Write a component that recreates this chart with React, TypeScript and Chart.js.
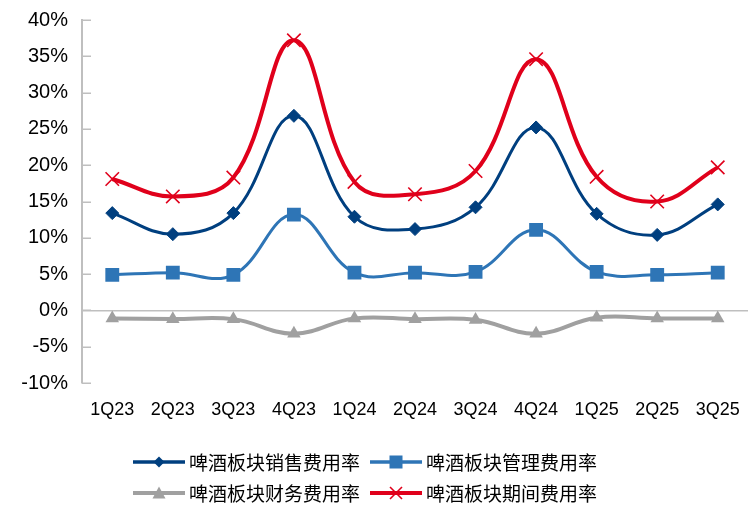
import React, { useEffect, useRef } from 'react';
import { Chart, registerables } from 'chart.js';

Chart.register(...registerables);

const categories = ['1Q23', '2Q23', '3Q23', '4Q23', '1Q24', '2Q24', '3Q24', '4Q24', '1Q25', '2Q25', '3Q25'];
const salesRate = [13.4, 10.5, 13.4, 26.8, 12.9, 11.2, 14.2, 25.2, 13.3, 10.4, 14.6];
const adminRate = [4.9, 5.2, 4.9, 13.2, 5.2, 5.2, 5.3, 11.1, 5.3, 4.9, 5.2];
const financeRate = [-1.1, -1.2, -1.2, -3.2, -1.1, -1.2, -1.3, -3.2, -1.0, -1.1, -1.1];
const periodRate = [18.1, 15.7, 18.3, 37.2, 17.7, 16.0, 19.2, 34.6, 18.4, 15.0, 19.7];
const seriesNames = ['啤酒板块销售费用率', '啤酒板块管理费用率', '啤酒板块财务费用率', '啤酒板块期间费用率'];
const yMin = -10;
const yMax = 40;
const yStep = 5;

const COLORS = ['#003F7F', '#2E75B6', '#A0A0A0', '#E0001B'];
const AXIS = '#BFBFBF';

const innerTicks = {
  id: 'innerTicks',
  beforeDatasetsDraw(chart: any) {
    const y = chart.scales.y;
    const ctx = chart.ctx;
    const left = chart.chartArea.left;
    ctx.save();
    ctx.strokeStyle = AXIS;
    ctx.lineWidth = 1.5;
    y.ticks.forEach((t: any) => {
      const py = Math.round(y.getPixelForValue(t.value)) + 0.25;
      ctx.beginPath();
      ctx.moveTo(left, py);
      ctx.lineTo(left + 9, py);
      ctx.stroke();
    });
    ctx.restore();
  },
};

function LegendIcon({ idx }: { idx: number }) {
  const c = COLORS[idx];
  let marker: any = null;
  if (idx === 0) marker = <polygon points="26,4.5 31.5,10 26,15.5 20.5,10" fill={c} />;
  if (idx === 1) marker = <rect x={19.5} y={3.5} width={13} height={13} fill={c} />;
  if (idx === 2) marker = <polygon points="26,3.5 32.5,15.5 19.5,15.5" fill={c} />;
  if (idx === 3)
    marker = (
      <g stroke={c} strokeWidth={1.6}>
        <line x1={20} y1={4} x2={32} y2={16} />
        <line x1={32} y1={4} x2={20} y2={16} />
      </g>
    );
  return (
    <svg width={52} height={20} style={{ display: 'block' }}>
      <line x1={0} y1={10} x2={52} y2={10} stroke={c} strokeWidth={idx >= 2 ? 4 : 3.5} />
      {marker}
    </svg>
  );
}

export default function App() {
  const ref = useRef<HTMLCanvasElement>(null);

  useEffect(() => {
    const canvas = ref.current!;
    const chart = new Chart(canvas, {
      type: 'line',
      data: {
        labels: categories,
        datasets: [
          {
            label: seriesNames[0],
            data: salesRate,
            borderColor: COLORS[0],
            backgroundColor: COLORS[0],
            borderWidth: 3,
            pointStyle: 'rectRot',
            pointRadius: 6.5,
            pointBorderWidth: 1,
            pointBackgroundColor: COLORS[0],
            pointBorderColor: COLORS[0],
            tension: 0.4,
          },
          {
            label: seriesNames[1],
            data: adminRate,
            borderColor: COLORS[1],
            backgroundColor: COLORS[1],
            borderWidth: 3,
            pointStyle: 'rect',
            pointRadius: 9.8,
            pointBorderWidth: 0,
            pointBackgroundColor: COLORS[1],
            tension: 0.4,
          },
          {
            label: seriesNames[2],
            data: financeRate,
            borderColor: COLORS[2],
            backgroundColor: COLORS[2],
            borderWidth: 4,
            pointStyle: 'triangle',
            pointRadius: 7.8,
            pointBorderWidth: 0,
            pointBackgroundColor: COLORS[2],
            tension: 0.4,
          },
          {
            label: seriesNames[3],
            data: periodRate,
            borderColor: COLORS[3],
            backgroundColor: COLORS[3],
            borderWidth: 4,
            pointStyle: 'crossRot',
            pointRadius: 9.5,
            pointBorderWidth: 1.6,
            pointBorderColor: COLORS[3],
            tension: 0.4,
          },
        ],
      },
      options: {
        animation: false,
        responsive: false,
        events: [],
        layout: { autoPadding: false, padding: { left: 0, right: 0, top: 20, bottom: 0 } },
        plugins: { legend: { display: false }, tooltip: { enabled: false } },
        scales: {
          x: {
            offset: true,
            grid: { display: false, drawTicks: false },
            border: { display: false },
            ticks: {
              font: { family: '"Liberation Sans", Arial, sans-serif', size: 18 },
              color: '#000',
              padding: 16,
              maxRotation: 0,
              autoSkip: false,
            },
            afterFit: (s: any) => {
              s.height = 122;
              s.paddingLeft = 0;
              s.paddingRight = 0;
            },
          },
          y: {
            min: yMin,
            max: yMax,
            ticks: {
              stepSize: yStep,
              callback: (v: any) => v + '%',
              font: { family: '"Liberation Sans", Arial, sans-serif', size: 20 },
              color: '#000',
              padding: 14,
            },
            grid: {
              drawTicks: false,
              color: (ctx: any) => (ctx.tick && ctx.tick.value === 0 ? AXIS : 'rgba(0,0,0,0)'),
              lineWidth: 1.5,
            },
            border: { display: true, color: AXIS, width: 2 },
            afterFit: (s: any) => {
              s.width = 82;
              s.paddingTop = 0;
              s.paddingBottom = 0;
            },
          },
        },
      },
      plugins: [innerTicks],
    });
    return () => chart.destroy();
  }, []);

  const legendPos = [
    { icon: 133, text: 189, y: 452 },
    { icon: 370, text: 426, y: 452 },
    { icon: 133, text: 189, y: 483 },
    { icon: 370, text: 426, y: 483 },
  ];

  return (
    <div style={{ position: 'absolute', left: 0, top: 0, width: 748, height: 505, background: '#fff', overflow: 'hidden' }}>
      <canvas ref={ref} width={748} height={505} style={{ position: 'absolute', left: 0, top: 0, width: 748, height: 505 }} />
      {seriesNames.map((name, i) => (
        <React.Fragment key={name}>
          <div style={{ position: 'absolute', left: legendPos[i].icon, top: legendPos[i].y, height: 20 }}>
            <LegendIcon idx={i} />
          </div>
          <div
            style={{
              position: 'absolute',
              left: legendPos[i].text,
              top: legendPos[i].y - 3,
              height: 26,
              lineHeight: '26px',
              fontFamily: '"Noto Sans CJK SC", sans-serif',
              fontSize: 19,
              color: '#000',
              whiteSpace: 'nowrap',
            }}
          >
            {name}
          </div>
        </React.Fragment>
      ))}
    </div>
  );
}
